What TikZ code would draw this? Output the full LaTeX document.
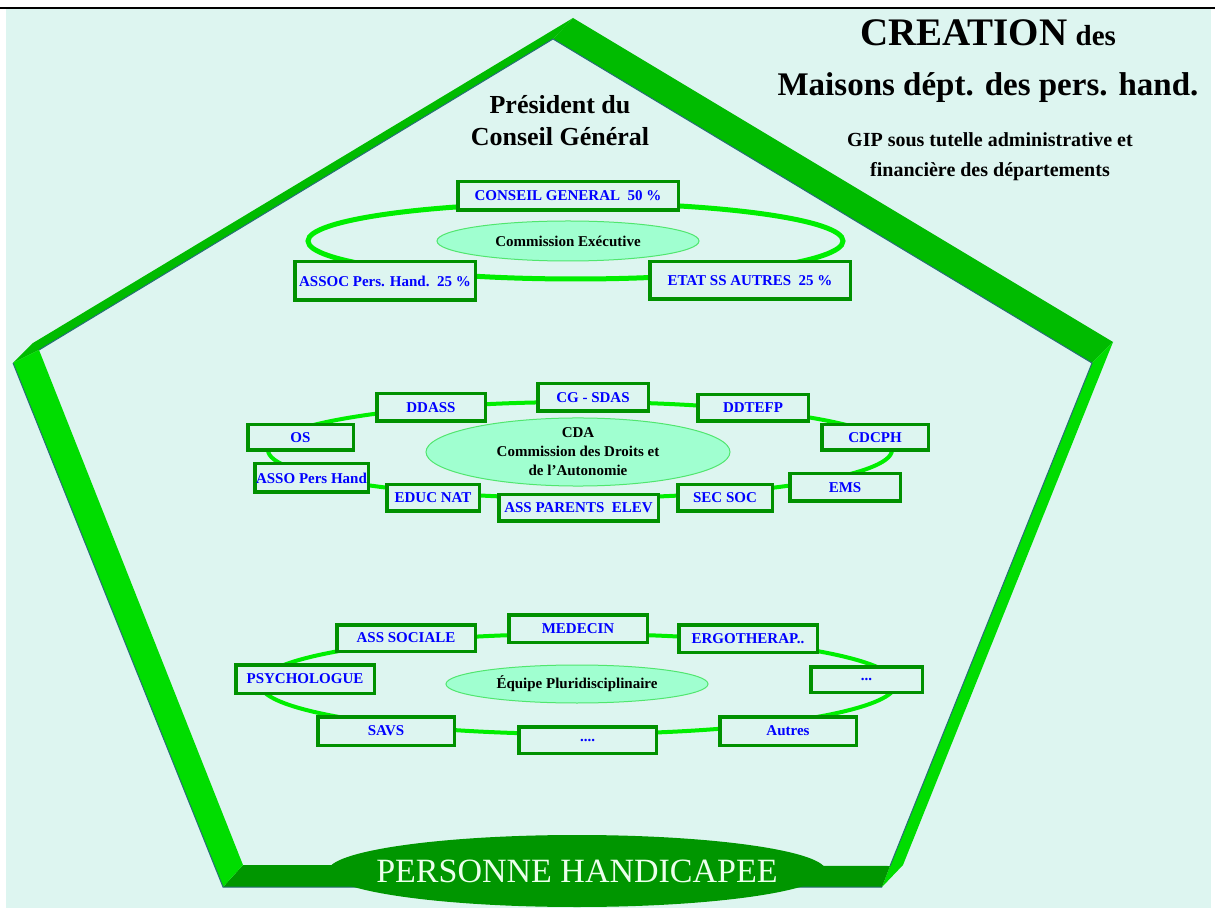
\documentclass[tikz,border=0pt]{standalone}
\usepackage{fontspec}
\setmainfont{Liberation Serif}
\usetikzlibrary{shapes.geometric}

\definecolor{bgcyan}{RGB}{221,245,240}
\definecolor{ringgreen}{RGB}{0,238,0}
\definecolor{boxgreen}{RGB}{0,145,0}
\definecolor{mint}{RGB}{160,255,208}
\definecolor{mintline}{RGB}{80,230,110}
\definecolor{framedark}{RGB}{0,187,0}
\definecolor{framelight}{RGB}{0,221,0}
\definecolor{framebottom}{RGB}{0,150,0}
\definecolor{frameedge}{RGB}{40,110,120}
\definecolor{handigreen}{RGB}{0,150,0}

\begin{document}
\begin{tikzpicture}[x=0.5pt, y=-0.5pt,
    member/.style={draw=boxgreen, line width=1.75pt, fill=bgcyan, inner sep=0pt, text=blue, font=\bfseries\fontsize{7.5}{9}\selectfont},
    commission/.style={ellipse, draw=mintline, line width=0.5pt, fill=mint, inner sep=0pt, align=center, font=\bfseries\fontsize{7.5}{9.5}\selectfont},
    ring/.style={ellipse, draw=ringgreen, inner sep=0pt}]

    \useasboundingbox (0,0) rectangle (1215,908);
    \fill[white] (0,0) rectangle (1215,908);
    \fill[bgcyan] (6,9) rectangle (1211,908);
    \draw[black, line width=1pt] (0,8) -- (1215,8);

    % Frame
    \fill[framedark] (573,18) -- (33,343) -- (13,363) -- (39,350) -- (553,39) -- cycle;
    \fill[framedark] (573,18) -- (1113,342) -- (1092,363) -- (553,39) -- cycle;
    \fill[framelight] (1113,342) -- (903,865) -- (882,887) -- (890,866) -- (1092,363) -- cycle;
    \fill[framebottom] (243,865) -- (890,866) -- (882,887) -- (223,887) -- cycle;
    \fill[framelight] (13,363) -- (39,350) -- (243,865) -- (223,887) -- cycle;
    \draw[frameedge, line width=0.5pt] (39,350) -- (553,39) -- (1092,363) -- (890,866);
    \draw[frameedge, line width=0.5pt] (13,363) -- (223,887) -- (882,887);

    % Titles
    \node[font=\bfseries] (title) at (988,33) {{\fontsize{19.5}{22}\selectfont CREATION}\, {\fontsize{14.5}{17}\selectfont des}};
    \node[font=\bfseries\fontsize{16.5}{19}\selectfont] (maisons) at (988,88) {Maisons dépt. des pers. hand.};
    \node[font=\bfseries\fontsize{10}{15}\selectfont, align=center] (gip) at (990,157) {GIP sous tutelle administrative et\\financière des départements};
    \node[font=\bfseries\fontsize{13}{16}\selectfont, align=center] (president) at (560,121) {Président du\\Conseil Général};

    % Rings
    \node[ring, line width=2.5pt, minimum width=267.5pt, minimum height=38pt] (ringtop) at (575.5,241) {};
    \node[ring, line width=2pt, minimum width=312pt, minimum height=48pt] (ringmid) at (580,450) {};
    \node[ring, line width=2pt, minimum width=318pt, minimum height=50pt] (ringbot) at (578,684) {};

    % Commission executive
    \node[member, minimum width=110.25pt, minimum height=14.25pt] (cg) at (568,196) {CONSEIL GENERAL~~50 \%};
    \node[member, minimum width=90.25pt, minimum height=19.25pt] (assoc) at (385,281) {ASSOC Pers. Hand.~~25 \%};
    \node[member, minimum width=100.25pt, minimum height=18.75pt] (etat) at (750,280.5) {ETAT SS AUTRES~~25 \%};
    \node[commission, minimum width=131pt, minimum height=20pt] (exec) at (568,241) {Commission Exécutive};

    % CDA
    \node[member, minimum width=54.25pt, minimum height=13.75pt] (ddass) at (431,407.5) {DDASS};
    \node[member, minimum width=55.25pt, minimum height=13.75pt] (cgsdas) at (593,397.5) {CG - SDAS};
    \node[member, minimum width=55.25pt, minimum height=13.25pt] (ddtefp) at (753,408) {DDTEFP};
    \node[member, minimum width=52.75pt, minimum height=12.75pt] (os) at (300.5,437.5) {OS};
    \node[member, minimum width=53.25pt, minimum height=12.75pt] (cdcph) at (875,437.5) {CDCPH};
    \node[member, minimum width=56.75pt, minimum height=14.25pt] (asso) at (311.5,478) {ASSO Pers Hand};
    \node[member, minimum width=46.25pt, minimum height=13.25pt] (educ) at (433,498) {EDUC NAT};
    \node[member, minimum width=79.75pt, minimum height=13.25pt] (parents) at (578.5,508) {ASS PARENTS~~ELEV};
    \node[member, minimum width=47.25pt, minimum height=13.25pt] (secsoc) at (725,498) {SEC SOC};
    \node[member, minimum width=55.25pt, minimum height=13.75pt] (ems) at (845,487.5) {EMS};
    \node[commission, minimum width=152pt, minimum height=28pt] (cda) at (578,452) {CDA\\Commission des Droits et\\de l’Autonomie};

    % Equipe pluridisciplinaire
    \node[member, minimum width=69.25pt, minimum height=13.25pt] (asssoc) at (406,638) {ASS SOCIALE};
    \node[member, minimum width=69.25pt, minimum height=13.75pt] (medecin) at (578,628.5) {MEDECIN};
    \node[member, minimum width=69.25pt, minimum height=13.75pt] (ergo) at (748,638.5) {ERGOTHERAP..};
    \node[member, minimum width=69.25pt, minimum height=14.25pt] (psy) at (305,679) {PSYCHOLOGUE};
    \node[member, minimum width=55.75pt, minimum height=12.75pt] (etc) at (866.5,679.5) {...};
    \node[member, minimum width=68.25pt, minimum height=14.25pt] (savs) at (386,731) {SAVS};
    \node[member, minimum width=68.75pt, minimum height=13.25pt] (etcbis) at (587.5,740) {....};
    \node[member, minimum width=68.25pt, minimum height=14.25pt] (autres) at (788,731) {Autres};
    \node[commission, minimum width=131pt, minimum height=19pt] (equipe) at (577,684) {Équipe Pluridisciplinaire};

    % Personne
    \node[ellipse, fill=handigreen, inner sep=0pt, minimum width=249pt, minimum height=36pt] (personne) at (577,871) {};
    \node[text={rgb,255:red,235;green,255;blue,235}, font=\fontsize{17}{20}\selectfont] (personnetext) at (personne) {PERSONNE HANDICAPEE};
\end{tikzpicture}
\end{document}
